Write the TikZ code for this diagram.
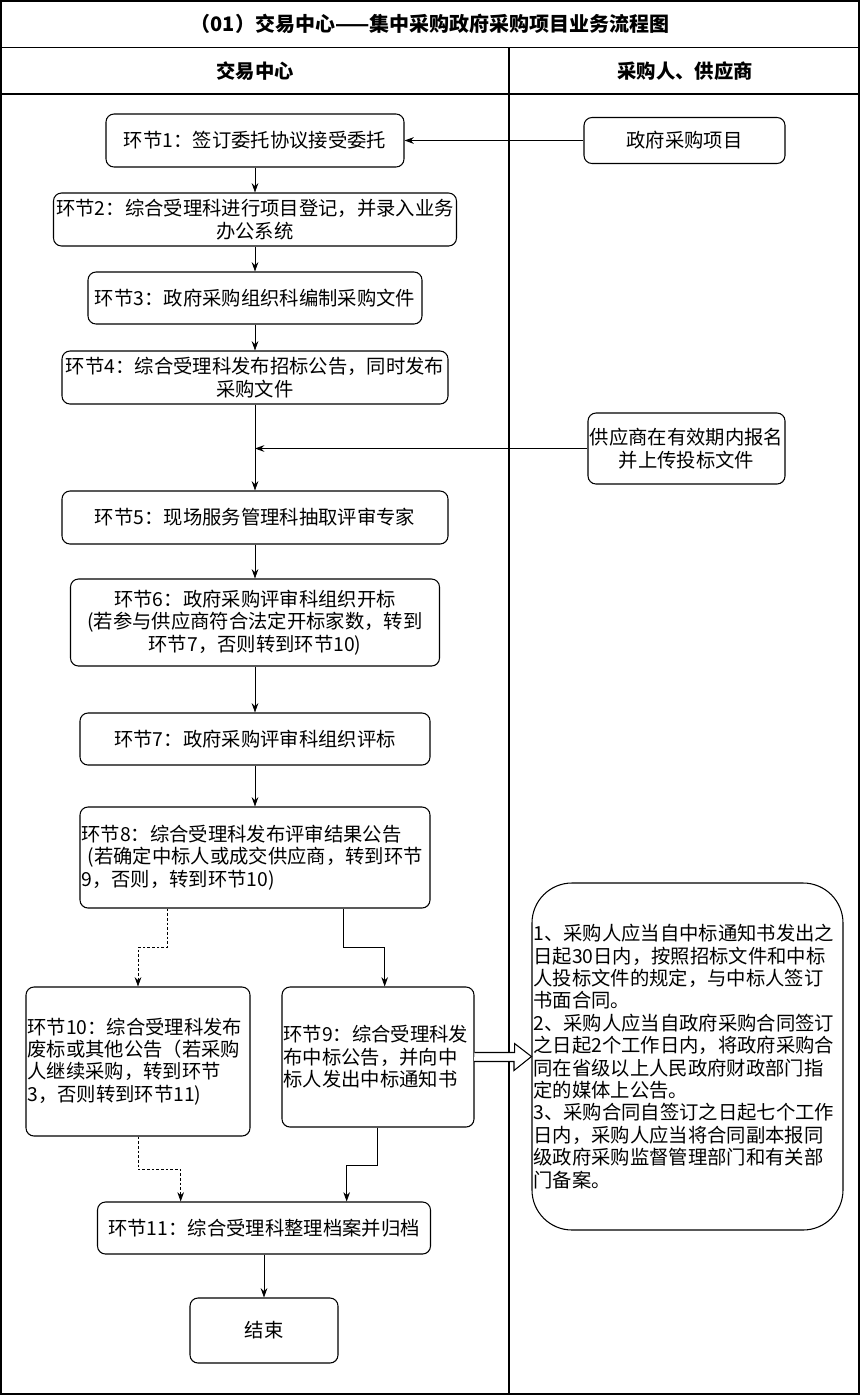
\documentclass[tikz,border=0pt]{standalone}
\usepackage{fontspec}
\setmainfont{Noto Sans CJK SC}
\usetikzlibrary{arrows.meta}

\begin{document}
\begin{tikzpicture}[x=0.75pt, y=-0.75pt,
    txt/.style={font=\fontsize{14.5pt}{16.8pt}\selectfont},
    stepbox/.style={draw, txt, rounded corners=6pt, line width=0.8pt, align=center, inner sep=1pt},
    leftbox/.style={stepbox, align=left},
    flow/.style={-{Stealth[length=7pt,width=5pt]}, line width=0.6pt},
    dflow/.style={flow, dash pattern=on 2pt off 1.5pt}]

    \useasboundingbox (0,0) rectangle (861,1396);

    % swimlanes
    \draw[line width=0.9pt] (1,1) rectangle (859,1394);
    \draw[line width=0.9pt] (1,47.5) -- (859,47.5);
    \draw[line width=0.9pt] (1,94) -- (859,94);
    \draw[line width=0.9pt] (509,47.5) -- (509,1394);

    \node[font=\bfseries\fontsize{15pt}{18pt}\selectfont] (title) at (430,24) {（01）交易中心——集中采购政府采购项目业务流程图};
    \node[txt, font=\bfseries\fontsize{14.5pt}{16.8pt}\selectfont] (lane1) at (255,71.5) {交易中心};
    \node[txt, font=\bfseries\fontsize{14.5pt}{16.8pt}\selectfont] (lane2) at (685,71.5) {采购人、供应商};

    % steps
    \node[stepbox, minimum width=223.5pt, minimum height=39.75pt] (h1) at (255,140.5) {环节1：签订委托协议接受委托};
    \node[stepbox, minimum width=150.75pt, minimum height=34.5pt] (proj) at (684.5,140.5) {政府采购项目};
    \node[stepbox, minimum width=302.25pt, minimum height=39.75pt] (h2) at (255,219.5) {环节2：综合受理科进行项目登记，并录入业务\\办公系统};
    \node[stepbox, minimum width=250.5pt, minimum height=39pt] (h3) at (255,298) {环节3：政府采购组织科编制采购文件};
    \node[stepbox, minimum width=289.5pt, minimum height=39.75pt] (h4) at (255,377.5) {环节4：综合受理科发布招标公告，同时发布\\采购文件};
    \node[stepbox, minimum width=147.75pt, minimum height=53.25pt] (sup) at (686.5,448.5) {供应商在有效期内报名\\并上传投标文件};
    \node[stepbox, minimum width=289.5pt, minimum height=39.75pt] (h5) at (255,517.5) {环节5：现场服务管理科抽取评审专家};
    \node[stepbox, minimum width=276.75pt, minimum height=65.25pt] (h6) at (255,622.5) {环节6：政府采购评审科组织开标\\(若参与供应商符合法定开标家数，转到\\环节7，否则转到环节10)};
    \node[stepbox, minimum width=262.5pt, minimum height=39pt] (h7) at (255,739) {环节7：政府采购评审科组织评标};
    \node[leftbox, text width=260.5pt, minimum height=75.75pt] (h8) at (255,857.5) {环节8：综合受理科发布评审结果公告\\\ (若确定中标人或成交供应商，转到环节\\9，否则，转到环节10)};
    \node[leftbox, text width=166pt, minimum height=111.75pt] (h10) at (138,1061.5) {环节10：综合受理科发布\\废标或其他公告（若采购\\人继续采购，转到环节\\3，否则转到环节11)};
    \node[leftbox, text width=142pt, minimum height=105pt] (h9) at (378,1057) {环节9：综合受理科发\\布中标公告，并向中\\标人发出中标通知书};
    \node[leftbox, rounded corners=30pt, text width=231.25pt, minimum height=260.25pt] (note) at (687.5,1056.5) {1、采购人应当自中标通知书发出之\\日起30日内，按照招标文件和中标\\人投标文件的规定，与中标人签订\\书面合同。\\2、采购人应当自政府采购合同签订\\之日起2个工作日内，将政府采购合\\同在省级以上人民政府财政部门指\\定的媒体上公告。\\3、采购合同自签订之日起七个工作\\日内，采购人应当将合同副本报同\\级政府采购监督管理部门和有关部\\门备案。};
    \node[stepbox, minimum width=249.75pt, minimum height=39pt] (h11) at (264,1228) {环节11：综合受理科整理档案并归档};
    \node[stepbox, minimum width=111pt, minimum height=48.75pt] (fin) at (264,1330.5) {结束};

    % connectors
    \draw[flow] (proj) -- (h1);
    \draw[flow] (h1) -- (h2);
    \draw[flow] (h2) -- (h3);
    \draw[flow] (h3) -- (h4);
    \coordinate (join) at (h4.south |- sup.west);
    \draw[flow] (h4) -- (h5);
    \draw[flow] (sup) -- (join);
    \draw[flow] (h5) -- (h6);
    \draw[flow] (h6) -- (h7);
    \draw[flow] (h7) -- (h8);
    \draw[dflow] ([xshift=-66pt]h8.south) -- ++(0,39) -| (h10.north);
    \draw[flow] ([xshift=66pt]h8.south) -- ++(0,39) -| ([xshift=5pt]h9.north);
    \draw[dflow] (h10.south) -- ++(0,33) -| ([xshift=-62.5pt]h11.north);
    \draw[flow] ([xshift=-0.75pt]h9.south) -- ++(0,38) -| ([xshift=62pt]h11.north);
    \draw[flow] (h11) -- (fin);

    % hollow arrow to the note
    \draw[line width=0.8pt, fill=white] (h9.east) ++(0,-4.5) -- ++(40,0) -- ++(0,-9) -- (note.west) -- ++(-17.5,14) -- ++(0,-9) -- ++(-40,0);
\end{tikzpicture}
\end{document}
